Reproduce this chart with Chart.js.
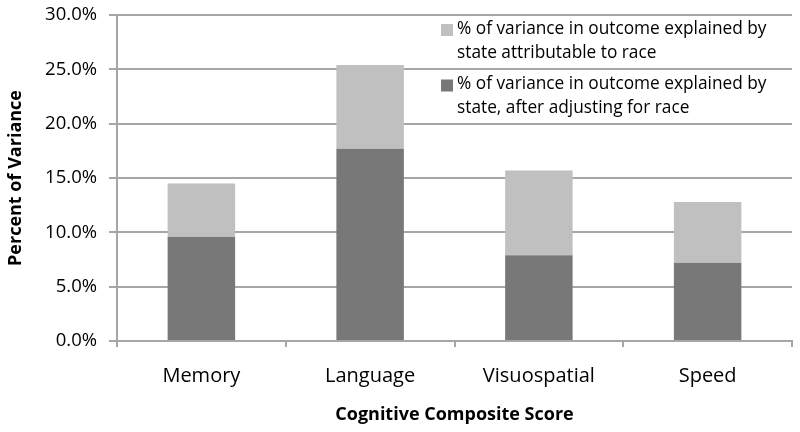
<!DOCTYPE html>
<html lang="en">
<head>
  <meta charset="UTF-8">
  <title>percent of variance</title>
  <script src="https://cdn.jsdelivr.net/npm/chart.js@4"></script>
  <style>
    html, body { margin: 0; padding: 0; background: #fff; }
  </style>
</head>
<body>
  <canvas id="varianceChart" width="800" height="432"></canvas>

  <script>
    const categories = ["Memory", "Language", "Visuospatial", "Speed"]
    const afterAdjusting = [9.6, 17.7, 7.9, 7.2]
    const attributableToRace = [4.9, 7.7, 7.8, 5.6]
    const yTicks = [0, 5, 10, 15, 20, 25, 30]
    const adjustedLabel = ["% of variance in outcome explained by", "state, after adjusting for race"]
    const raceLabel = ["% of variance in outcome explained by", "state attributable to race"]

    const gridGray = "#a6a6a6"
    const fontFamily = "'Open Sans', sans-serif"

    // excel-style legend: sits inside the plot, top right, lines wrap
    const boxLegend = {
      id: "boxLegend",
      afterDraw(chart) {
        const ctx = chart.ctx
        const area = chart.chartArea
        const sets = chart.data.datasets.slice().reverse()
        let x = area.right - 351
        let y = area.top + 14
        ctx.save()
        ctx.font = "17.3px " + fontFamily
        ctx.textBaseline = "middle"
        sets.forEach(ds => {
          ctx.fillStyle = ds.backgroundColor
          ctx.fillRect(x, y - 5, 12, 12)
          ctx.fillStyle = "#000"
          ds.label.forEach((line, i) => ctx.fillText(line, x + 16, y + i * 24))
          y += 55.5
        })
        ctx.restore()
      }
    }

    const ctx = document.getElementById("varianceChart").getContext("2d")
    const chart = new Chart(ctx, {
      type: "bar",
      data: {
        labels: categories,
        datasets: [
          {
            label: adjustedLabel,
            data: afterAdjusting,
            backgroundColor: "#787878",
            borderWidth: 0
          },
          {
            label: raceLabel,
            data: attributableToRace,
            backgroundColor: "#c0c0c0",
            borderWidth: 0
          }
        ]
      },
      options: {
        responsive: false,
        animation: false,
        devicePixelRatio: 1,
        categoryPercentage: 1,
        barPercentage: 0.4,
        layout: { padding: { top: 15, right: 8, left: 0, bottom: 0 } },
        plugins: {
          legend: { display: false },
          tooltip: { enabled: false }
        },
        scales: {
          x: {
            stacked: true,
            grid: { drawOnChartArea: false, tickLength: 6, color: gridGray, lineWidth: 2, offset: true },
            border: { color: gridGray, width: 2 },
            ticks: { color: "#000", font: { family: fontFamily, size: 20 }, padding: 17 },
            title: {
              display: true,
              text: "Cognitive Composite Score",
              color: "#000",
              font: { family: fontFamily, size: 18, weight: "bold" },
              padding: { top: 0, bottom: 6 }
            },
            afterFit: s => { s.height = 91; s.paddingLeft = 0; s.paddingRight = 0 }
          },
          y: {
            stacked: true,
            min: 0,
            max: 30,
            afterBuildTicks: s => { s.ticks = yTicks.map(v => ({ value: v })) },
            grid: { color: gridGray, lineWidth: 2, tickLength: 8 },
            border: { color: gridGray, width: 2 },
            ticks: {
              color: "#000",
              font: { family: fontFamily, size: 18.5 },
              padding: 12,
              callback: v => v.toFixed(1) + "%"
            },
            title: {
              display: true,
              text: "Percent of Variance",
              color: "#000",
              font: { family: fontFamily, size: 18, weight: "bold" },
              padding: { top: 5, bottom: 0 }
            },
            afterFit: s => { s.width = 117; s.paddingTop = 0; s.paddingBottom = 0 }
          }
        }
      },
      plugins: [boxLegend]
    })
  </script>
</body>
</html>
